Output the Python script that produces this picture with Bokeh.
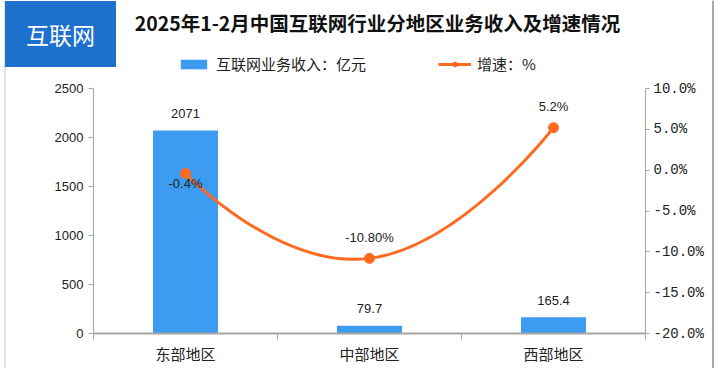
from bokeh.plotting import figure
from bokeh.models import (ColumnDataSource, Range1d, LinearAxis, FixedTicker,
                          PrintfTickFormatter, Label, Legend, LegendItem, Span)
from bokeh.embed import file_html
from bokeh.resources import INLINE
from bokeh.core.properties import value

# ---------------- data ----------------
categories = ["东部地区", "中部地区", "西部地区"]
revenue = [2071, 79.7, 165.4]
growth = [-0.4, -10.8, 5.2]
growth_labels = ["-0.4%", "-10.80%", "5.2%"]
revenue_ticks = [0, 500, 1000, 1500, 2000, 2500]
growth_ticks = [-20, -15, -10, -5, 0, 5, 10]
title_text = "2025年1-2月中国互联网行业分地区业务收入及增速情况"
badge_text = "互联网"
revenue_name = "互联网业务收入：亿元"
growth_name = "增速：%"

# ---------------- style / layout ----------------
BLUE = "#3D9BF2"
ORANGE = "#FF6A1F"
BADGE = "#1E70CD"
AXIS = "#A6A6A6"
TXT = "#222222"
CJK = "Noto Sans CJK SC"

W, H = 716, 368                       # canvas size (px)
PL, PR, PT, PB = 93, 645, 88, 333     # chart area edges on the canvas (px)

n = len(categories)
xs = [i + 0.5 for i in range(n)]
growth_offsets = [10, -21, -21]       # label placement (px)

# ranges chosen so that the whole canvas is the frame and the chart area sits at PL..PR / PT..PB
xu = (PR - PL) / n
x_rng = Range1d(-PL / xu, (W - PL) / xu)
r0, r1 = revenue_ticks[0], revenue_ticks[-1]
ru = (PB - PT) / (r1 - r0)
y_rng = Range1d(r0 - (H - PB) / ru, r1 + PT / ru)
g0, g1 = growth_ticks[0], growth_ticks[-1]
gu = (PB - PT) / (g1 - g0)
g_rng = Range1d(g0 - (H - PB) / gu, g1 + PT / gu)

src = ColumnDataSource(dict(
    x=xs, revenue=revenue, growth=growth,
    rev_label=[f"{v:g}" for v in revenue],
    g_label=growth_labels, g_off=growth_offsets,
))

# smooth curve (cardinal bezier) through the growth points
s = 0.25
tang = []
for i in range(n):
    if i == 0 or i == n - 1:
        tang.append((0.0, 0.0))
    else:
        tang.append(((xs[i + 1] - xs[i - 1]) * s, (growth[i + 1] - growth[i - 1]) * s))
bz = ColumnDataSource(dict(
    x0=xs[:-1], y0=growth[:-1], x1=xs[1:], y1=growth[1:],
    cx0=[xs[i] + tang[i][0] for i in range(n - 1)],
    cy0=[growth[i] + tang[i][1] for i in range(n - 1)],
    cx1=[xs[i + 1] - tang[i + 1][0] for i in range(n - 1)],
    cy1=[growth[i + 1] - tang[i + 1][1] for i in range(n - 1)],
))

p = figure(width=W, height=H, output_backend="svg", toolbar_location=None,
           x_range=x_rng, y_range=y_rng, title=None,
           min_border_left=0, min_border_right=0, min_border_top=0, min_border_bottom=0)
p.extra_y_ranges = {"pct": g_rng}
p.xgrid.visible = False
p.ygrid.visible = False
p.outline_line_color = None
p.background_fill_color = "white"
p.border_fill_color = "white"

# card edges
p.add_layout(Span(location=4.5, location_units="screen", dimension="height",
                  line_color="#c4c4c4", line_width=1))
p.add_layout(Span(location=712.5, location_units="screen", dimension="height",
                  line_color="#a8a8a8", line_width=2))

bars = p.vbar(x="x", top="revenue", width=0.353, source=src,
              fill_color=BLUE, line_color=None)
bez = p.bezier(x0="x0", y0="y0", x1="x1", y1="y1", cx0="cx0", cy0="cy0",
               cx1="cx1", cy1="cy1", source=bz, y_range_name="pct",
               line_color=ORANGE, line_width=3)
sc = p.scatter(x="x", y="growth", source=src, y_range_name="pct", size=10,
               fill_color=ORANGE, line_color=ORANGE)

p.text(x="x", y="revenue", text="rev_label", source=src, text_align="center",
       text_baseline="middle", y_offset=-17, text_font=value("Liberation Sans"),
       text_font_size="13px", text_color=TXT)
p.text(x="x", y="growth", text="g_label", source=src, y_range_name="pct",
       text_align="center", text_baseline="middle", y_offset="g_off",
       text_font=value("Liberation Sans"), text_font_size="13px", text_color=TXT)

# left axis
ya = p.yaxis[0]
ya.fixed_location = 0
ya.bounds = (r0, r1)
ya.ticker = FixedTicker(ticks=revenue_ticks)
ya.axis_line_color = AXIS
ya.major_tick_line_color = AXIS
ya.major_tick_out = 5
ya.major_tick_in = 0
ya.minor_tick_line_color = None
ya.major_label_standoff = 5
ya.major_label_text_font = "Liberation Sans"
ya.major_label_text_font_size = "13px"
ya.major_label_text_color = TXT

# right axis
ra = LinearAxis(y_range_name="pct", ticker=FixedTicker(ticks=growth_ticks),
                formatter=PrintfTickFormatter(format="%.1f%%"),
                fixed_location=n, bounds=(g0, g1))
ra.axis_line_color = AXIS
ra.major_tick_line_color = AXIS
ra.major_tick_out = 4
ra.major_tick_in = 0
ra.minor_tick_line_color = None
ra.major_label_standoff = 4
ra.major_label_text_font = "Liberation Mono"
ra.major_label_text_font_size = "14px"
ra.major_label_text_color = TXT
p.add_layout(ra, "right")

# bottom axis
xa = p.xaxis[0]
xa.fixed_location = r0
xa.bounds = (0, n)
xa.ticker = FixedTicker(ticks=xs, minor_ticks=list(range(n + 1)))
xa.major_label_overrides = {x: c for x, c in zip(xs, categories)}
xa.axis_line_color = AXIS
xa.axis_line_width = 2
xa.major_tick_line_color = None
xa.major_tick_out = 0
xa.major_tick_in = 0
xa.minor_tick_line_color = AXIS
xa.minor_tick_out = 6
xa.minor_tick_in = 0
xa.major_label_standoff = 3
xa.major_label_text_font = CJK
xa.major_label_text_font_size = "15px"
xa.major_label_text_color = TXT

# title & badge (screen units = canvas px, y measured from the bottom)
p.add_layout(Label(x=377, y=H - 22, x_units="screen", y_units="screen", text=title_text,
                   text_align="center", text_baseline="middle", text_font=CJK,
                   text_font_style="bold", text_font_size="19.5px", text_color="#111111"))
p.add_layout(Label(x=60, y=H - 33.5, x_units="screen", y_units="screen", text=badge_text,
                   text_align="center", text_baseline="middle", text_font=CJK,
                   text_font_size="23px", text_color="white",
                   background_fill_color=BADGE, padding=(21, 16)))

legend = Legend(items=[LegendItem(label=revenue_name, renderers=[bars]),
                       LegendItem(label=growth_name, renderers=[bez, sc])],
                location=(177, H - 74), orientation="horizontal", glyph_width=33,
                glyph_height=12, label_standoff=6, spacing=72, padding=0, margin=0,
                border_line_color=None, background_fill_alpha=0,
                label_text_font=CJK, label_text_font_size="15px",
                label_text_color=TXT, label_height=18)
p.add_layout(legend)

open("out.html", "w").write(file_html(p, INLINE))
